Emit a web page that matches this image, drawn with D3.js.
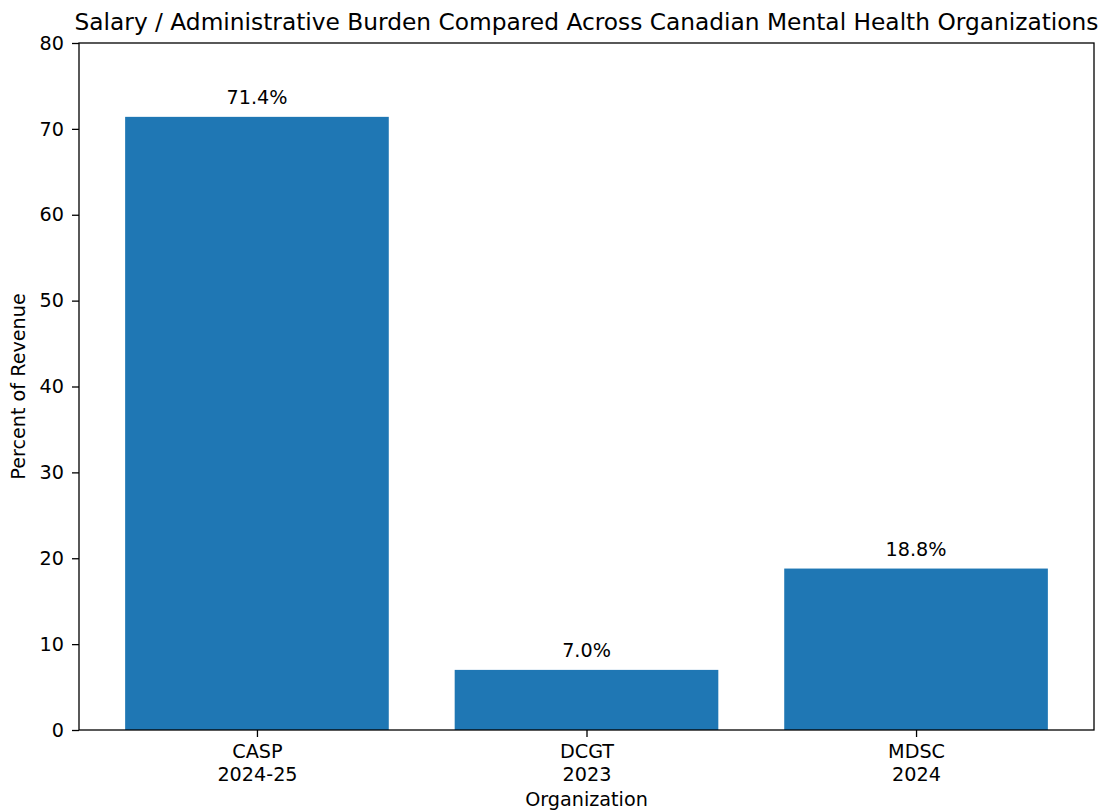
<!DOCTYPE html>
<html>
<head>
<meta charset="utf-8">
<script src="https://cdn.jsdelivr.net/npm/d3@7"></script>
<style>
  body { margin: 0; background: #fff; }
  text { font-family: "DejaVu Sans", sans-serif; fill: #000; }
</style>
</head>
<body>
<div id="chart"></div>
<script>
// data
var orgs = ["CASP", "DCGT", "MDSC"];
var years = ["2024-25", "2023", "2024"];
var percents = [71.4, 7.0, 18.8];
var yTicks = [0, 10, 20, 30, 40, 50, 60, 70, 80];

var svgWidth = 1099;
var svgHeight = 811;

var margin = { top: 43, right: 5, bottom: 81, left: 79 };
var width = svgWidth - margin.left - margin.right;
var height = svgHeight - margin.top - margin.bottom;

var svg = d3.select("#chart")
  .append("svg")
  .attr("width", svgWidth)
  .attr("height", svgHeight);

var chartGroup = svg.append("g")
  .attr("transform", `translate(${margin.left}, ${margin.top})`);

// bar centers at 0,1,2, width 0.8, 5% margins
var xLinear = d3.scaleLinear()
  .domain([-0.54, 2.54])
  .range([0, width]);

var yLinear = d3.scaleLinear()
  .domain([0, 80])
  .range([height, 0]);

var barW = 0.8;
var fontPx = 19.2;

// bars
chartGroup.selectAll("rect.bar")
  .data(percents)
  .enter()
  .append("rect")
  .attr("class", "bar")
  .attr("x", (d, i) => xLinear(i - barW / 2))
  .attr("width", (d, i) => xLinear(i + barW / 2) - xLinear(i - barW / 2))
  .attr("y", d => yLinear(d))
  .attr("height", d => height - yLinear(d))
  .attr("fill", "#1f77b4");

// value labels
chartGroup.selectAll("text.val")
  .data(percents)
  .enter()
  .append("text")
  .attr("class", "val")
  .attr("x", (d, i) => xLinear(i))
  .attr("y", d => yLinear(d) - 13)
  .attr("text-anchor", "middle")
  .attr("font-size", fontPx)
  .text(d => d.toFixed(1) + "%");

// y axis
var leftAxis = d3.axisLeft(yLinear)
  .tickValues(yTicks)
  .tickSize(7)
  .tickPadding(8);

var yAxis = chartGroup.append("g").call(leftAxis);
yAxis.select(".domain").remove();
yAxis.selectAll("line").attr("stroke", "#000").attr("stroke-width", 1.3);
yAxis.selectAll("text").attr("font-size", fontPx).attr("font-family", "DejaVu Sans").attr("fill", "#000");

// x axis
var bottomAxis = d3.axisBottom(xLinear)
  .tickValues([0, 1, 2])
  .tickSize(7)
  .tickPadding(8)
  .tickFormat("");

var xAxis = chartGroup.append("g")
  .attr("transform", `translate(0, ${height})`)
  .call(bottomAxis);
xAxis.select(".domain").remove();
xAxis.selectAll("line").attr("stroke", "#000").attr("stroke-width", 1.3);

xAxis.selectAll("g.tick").each(function(d, i) {
  var t = d3.select(this).select("text")
    .attr("font-size", fontPx)
    .attr("font-family", "DejaVu Sans")
    .attr("fill", "#000")
    .attr("dy", null)
    .attr("y", 28);
  t.append("tspan").attr("x", 0).text(orgs[i]);
  t.append("tspan").attr("x", 0).attr("dy", 22.5).text(years[i]);
});

// frame
chartGroup.append("rect")
  .attr("x", 0)
  .attr("y", 0)
  .attr("width", width)
  .attr("height", height)
  .attr("fill", "none")
  .attr("stroke", "#000")
  .attr("stroke-width", 1.3);

// title and axis labels
svg.append("text")
  .attr("x", margin.left + width / 2)
  .attr("y", 30)
  .attr("text-anchor", "middle")
  .attr("font-size", 23.3)
  .text("Salary / Administrative Burden Compared Across Canadian Mental Health Organizations");

svg.append("text")
  .attr("x", margin.left + width / 2)
  .attr("y", 806)
  .attr("text-anchor", "middle")
  .attr("font-size", fontPx)
  .text("Organization");

svg.append("text")
  .attr("transform", `translate(25, ${margin.top + height / 2}) rotate(-90)`)
  .attr("text-anchor", "middle")
  .attr("font-size", fontPx)
  .text("Percent of Revenue");
</script>
</body>
</html>
